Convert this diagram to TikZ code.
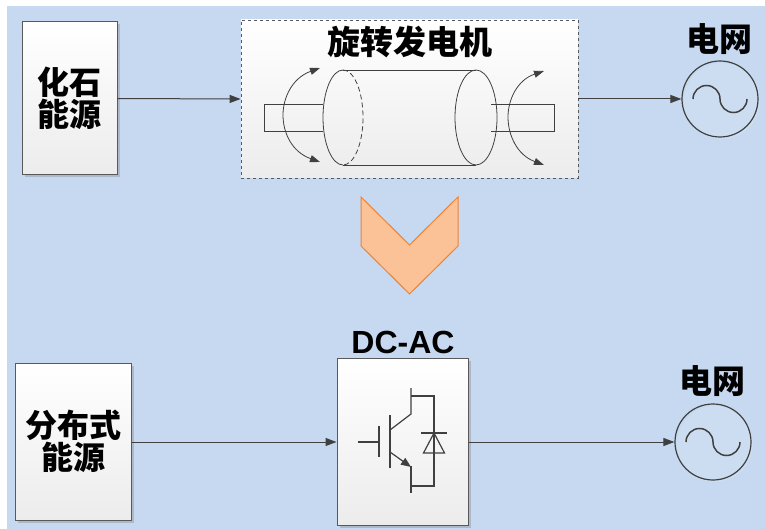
\documentclass[tikz,border=0pt]{standalone}
\usepackage{fontspec}
\newfontfamily\cjk{Noto Sans CJK SC}
\newfontfamily\lat{Liberation Sans}
\usetikzlibrary{arrows.meta,shadows}
\definecolor{bg}{RGB}{198,217,240}
\definecolor{ink}{RGB}{64,64,64}
\definecolor{edge}{RGB}{89,89,89}
\definecolor{boxlow}{RGB}{236,236,236}
\definecolor{chevfill}{RGB}{250,194,150}
\definecolor{chevline}{RGB}{240,130,50}
\tikzset{
  srcbox/.style={draw=edge, line width=1pt, top color=white, bottom color=boxlow,
    drop shadow={shadow xshift=2.5pt, shadow yshift=-2.5pt, opacity=0.35},
    inner sep=0pt, align=center, font=\cjk\bfseries\fontsize{32}{31.5}\selectfont},
  genbox/.style={draw=edge, dashed, line width=0.8pt, top color=white, bottom color=boxlow, inner sep=0pt},
  invbox/.style={draw=edge, line width=1pt, top color=white, bottom color=boxlow,
    drop shadow={shadow xshift=2.5pt, shadow yshift=-2.5pt, opacity=0.35}, inner sep=0pt},
  gridsym/.style={circle, draw=ink, line width=1.2pt, minimum size=76pt, inner sep=0pt,
    drop shadow={shadow xshift=2pt, shadow yshift=-2pt, opacity=0.12, fill=white}},
  title/.style={font=\cjk\bfseries\fontsize{33}{35}\selectfont, inner sep=0pt},
  link/.style={draw=ink, line width=1pt, -{Triangle[length=11pt,width=8pt]}},
  part/.style={draw=ink, line width=0.8pt},
  turn/.style={draw=ink, line width=0.8pt, {Triangle[length=10pt,width=7pt]}-{Triangle[length=10pt,width=7pt]}},
  sym/.style={draw=ink, line width=1.2pt},
  wave/.style={draw=ink, line width=1.5pt}
}
\begin{document}
\begin{tikzpicture}[x=1pt, y=-1pt]
  \useasboundingbox (0,0) rectangle (765,529);
  \fill[bg] (7,6) rectangle (765,529);

  % ---------- upper row: fossil source -> rotating generator -> grid
  \node[srcbox, minimum width=95pt, minimum height=153pt] (fossil) at (69.5,98.5) {化石\\能源};
  \node[genbox, minimum width=337pt, minimum height=158pt] (gen) at (409.5,99) {};
  \node[title] (gentitle) at (410,42) {旋转发电机};
  \node[gridsym] (grid1) at (720,99) {};
  \node[title] (grid1title) at (719,39) {电网};

  \draw[link] (fossil.east) -- (gen.west);
  \draw[link] (gen.east) -- (grid1.west);

  % shaft stubs
  \draw[part] (323,104) -- (264,104) -- (264,131) -- (323,131);
  \draw[part] (491,104) -- (554,104) -- (554,131) -- (491,131);
  % cylinder body
  \coordinate (cl) at (343,117.5);
  \coordinate (cr) at (476,117.5);
  \draw[part] ([yshift=47.5pt]cl) -- ([yshift=47.5pt]cr);
  \draw[part] ([yshift=-47.5pt]cl) -- ([yshift=-47.5pt]cr);
  \draw[part] ([yshift=47.5pt]cl) arc[start angle=270, end angle=90, x radius=20, y radius=47.5];
  \draw[part, dashed, dash pattern=on 5pt off 3pt] ([yshift=47.5pt]cl) arc[start angle=-90, end angle=90, x radius=20, y radius=47.5];
  \draw[part] (cr) ellipse[x radius=21, y radius=47.5];
  % rotation arrows
  \draw[turn] (320,68) .. controls (292,78) and (283,98) .. (283,115)
                       .. controls (283,133) and (292,152) .. (320,162);
  \draw[turn] (544,71) .. controls (517,80) and (508,100) .. (508,117)
                       .. controls (508,135) and (517,155) .. (544,165);

  % sine inside the grid symbol
  \draw[wave] ([xshift=-27pt]grid1.center) arc[start angle=180, end angle=360, radius=13.5]
                                           arc[start angle=180, end angle=0, radius=13.5];

  % ---------- transition chevron
  \filldraw[fill=chevfill, draw=chevline, line width=1pt]
    (361,197) -- (409.5,245) -- (458,197) -- (458,246) -- (409.5,294) -- (361,246) -- cycle;

  % ---------- lower row: distributed source -> DC-AC -> grid
  \node[srcbox, minimum width=116pt, minimum height=157pt] (dist) at (73,441.5) {分布式\\能源};
  \node[invbox, minimum width=131pt, minimum height=167pt] (inv) at (402.5,441.5) {};
  \node[font=\lat\bfseries\fontsize{32}{34}\selectfont, inner sep=0pt] (invtitle) at (403,342) {DC-AC};
  \node[gridsym] (grid2) at (713,442) {};
  \node[title] (grid2title) at (712,381) {电网};

  \draw[link] (dist.east |- 0,442) -- (inv.west |- 0,442);
  \draw[link] (inv.east |- 0,442) -- (grid2.west);

  \draw[wave] ([xshift=-27pt]grid2.center) arc[start angle=180, end angle=360, radius=13.5]
                                           arc[start angle=180, end angle=0, radius=13.5];

  % IGBT with antiparallel diode
  \draw[sym] (358,442) -- (379,442);
  \draw[sym] (379,426) -- (379,457);
  \draw[sym] (390,415) -- (390,468);
  \draw[sym] (390,430) -- (411,414) -- (411,388);
  \draw[sym] (411,396) -- (434,396) -- (434,486) -- (411,486);
  \draw[sym, -{Triangle[length=10pt,width=8pt]}] (390,452) -- (411,467);
  \draw[sym] (411,466) -- (411,493);
  \draw[sym] (421,433) -- (447,433);
  \draw[sym] (434,433) -- (423.5,453) -- (444.5,453) -- cycle;
\end{tikzpicture}
\end{document}
